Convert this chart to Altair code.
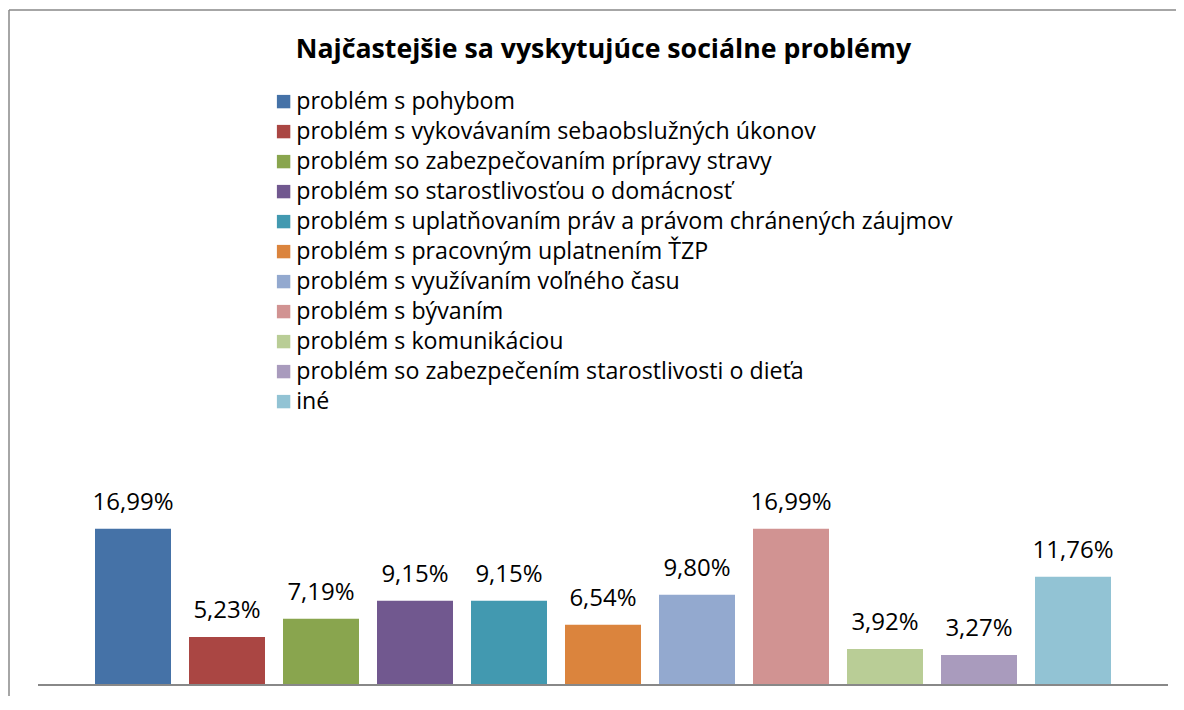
import altair as alt
import pandas as pd

categories = [
    "problém s pohybom",
    "problém s vykovávaním sebaobslužných úkonov",
    "problém so zabezpečovaním prípravy stravy",
    "problém so starostlivosťou o domácnosť",
    "problém s uplatňovaním práv a právom chránených záujmov",
    "problém s pracovným uplatnením ŤZP",
    "problém s využívaním voľného času",
    "problém s bývaním",
    "problém s komunikáciou",
    "problém so zabezpečením starostlivosti o dieťa",
    "iné",
]
values = [16.99, 5.23, 7.19, 9.15, 9.15, 6.54, 9.80, 16.99, 3.92, 3.27, 11.76]
colors = ["#4572A7", "#AA4643", "#89A54E", "#71588F", "#4299B0", "#DB843D",
          "#93A9CF", "#D19392", "#B9CD96", "#A99BBD", "#92C3D4"]
title_text = "Najčastejšie sa  vyskytujúce sociálne problémy"

labels = [f"{v:.2f}".replace(".", ",") + "%" for v in values]
df = pd.DataFrame({"kategoria": categories, "hodnota": values, "popis": labels,
                   "poradie": list(range(len(categories)))})

W, H = 1166, 686
FONT = "Open Sans"
GRAY = "#888888"
PX_PER_UNIT = 9.2   # vertical pixels per percent
ZERO_Y = 675        # plot-y of the category axis
STEP = 94           # pixels per category
FIRST_CENTER = 124  # plot-x of first category centre
HALF = 38 / STEP    # half bar width in category units

x_scale = alt.Scale(domain=[-FIRST_CENTER / STEP, (W - FIRST_CENTER) / STEP], nice=False, zero=False)
y_scale = alt.Scale(domain=[-(H - ZERO_Y) / PX_PER_UNIT, ZERO_Y / PX_PER_UNIT], nice=False, zero=False)

base = alt.Chart(df).transform_calculate(
    x0=f"datum.poradie - {HALF}", x1=f"datum.poradie + {HALF}")

bars = base.mark_bar().encode(
    x=alt.X("x0:Q", scale=x_scale, axis=None),
    x2="x1:Q",
    y=alt.Y("hodnota:Q", scale=y_scale, axis=None),
    y2=alt.datum(0),
    color=alt.Color("kategoria:N", sort=categories,
                    scale=alt.Scale(domain=categories, range=colors),
                    legend=alt.Legend(orient="none", legendX=263, legendY=80, title=None,
                                      symbolType="square", symbolSize=180, symbolStrokeWidth=0,
                                      labelFont=FONT, labelFontSize=23.2, labelColor="black",
                                      rowPadding=6.0, labelOffset=1, padding=0, labelLimit=0)),
)

text = alt.Chart(df).mark_text(baseline="alphabetic", dy=-19, fontSize=24, font=FONT,
                               color="black").encode(
    x=alt.X("poradie:Q", scale=x_scale, axis=None),
    y=alt.Y("hodnota:Q", scale=y_scale, axis=None),
    text="popis:N")

one = pd.DataFrame({"t": [title_text]})
title = alt.Chart(one).mark_text(fontWeight="bold", fontSize=26.7, font=FONT, color="black",
                                 align="center", baseline="alphabetic").encode(
    x=alt.value(594.5), y=alt.value(48), text="t:N")

axis_line = alt.Chart(one).mark_rule(color=GRAY, strokeWidth=2).encode(
    x=alt.value(29), x2=alt.value(1159), y=alt.value(ZERO_Y))

border_left = alt.Chart(one).mark_rule(color=GRAY, strokeWidth=1.5).encode(
    x=alt.value(0), y=alt.value(0), y2=alt.value(H))
border_top = alt.Chart(one).mark_rule(color=GRAY, strokeWidth=1.5).encode(
    y=alt.value(0), x=alt.value(0), x2=alt.value(W + 1))

chart = alt.layer(border_left, border_top, bars, axis_line, text, title).properties(
    width=W, height=H,
    autosize=alt.AutoSizeParams(type="none"),
    padding={"left": 1, "top": 2, "right": 1, "bottom": 0},
).configure_view(stroke=None)

chart.save("out.html", embed_options={"renderer": "svg", "actions": False})
